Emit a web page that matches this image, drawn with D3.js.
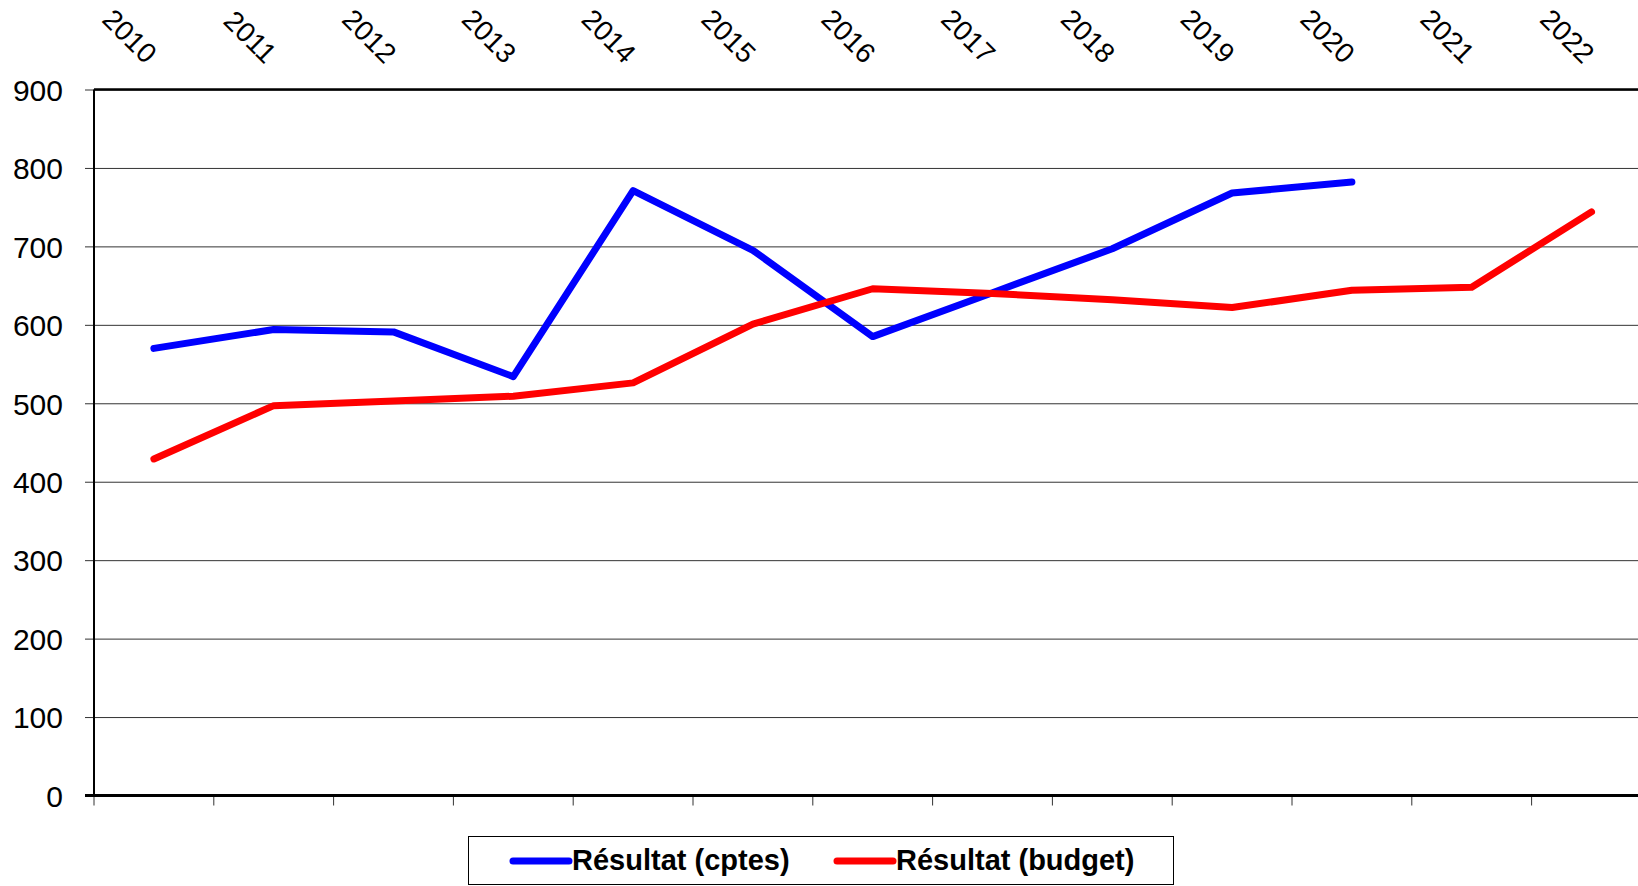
<!DOCTYPE html>
<html>
<head>
<meta charset="utf-8">
<script src="https://cdn.jsdelivr.net/npm/d3@7"></script>
<style>
  body { margin: 0; overflow: hidden; background: #fff; }
  text { font-family: "Liberation Sans", Arial, sans-serif; }
</style>
</head>
<body>
<div id="chart"></div>
<script>
// Data
var years = ["2010", "2011", "2012", "2013", "2014", "2015", "2016", "2017", "2018", "2019", "2020", "2021", "2022"];
var cptes = [570, 594, 591, 534, 771, 695, 585, 641, 697, 768, 782, null, null];
var budget = [429, 497, 503, 509, 526, 601, 646, 640, 632, 622, 644, 648, 744];
var yTicks = [0, 100, 200, 300, 400, 500, 600, 700, 800, 900];
var seriesNames = ["Résultat (cptes)", "Résultat (budget)"];
var seriesColors = ["#0000ff", "#ff0000"];

var svgWidth = 1638;
var svgHeight = 886;
var plotLeft = 94, plotTop = 89.5, plotBottom = 795.5;
var bandW = 119.8;
var plotRight = plotLeft + bandW * years.length;

var svg = d3.select("#chart")
    .append("svg")
    .attr("width", svgWidth)
    .attr("height", svgHeight);

// Scales
var xScale = d3.scaleBand().domain(years).range([plotLeft, plotRight]).padding(0);
var yScale = d3.scaleLinear().domain([0, 900]).range([plotBottom, plotTop]);
var xMid = function(d) { return xScale(d) + xScale.bandwidth() / 2; };

// Gridlines + y axis
var yAxis = d3.axisLeft(yScale)
    .tickValues(yTicks)
    .tickSize(-(plotRight - plotLeft))
    .tickSizeOuter(0)
    .tickFormat(d3.format("d"));

var gy = svg.append("g")
    .attr("transform", `translate(${plotLeft},0)`)
    .call(yAxis);
gy.select(".domain").remove();
gy.selectAll(".tick line")
    .attr("x1", -9)
    .attr("stroke", "#333")
    .attr("stroke-width", 1);
gy.selectAll(".tick text")
    .attr("x", -31)
    .attr("dy", "0.36em")
    .attr("font-size", "30px")
    .attr("font-family", "Liberation Sans, Arial, sans-serif")
    .attr("fill", "#000");

// Top border, left axis
svg.append("line")
    .attr("x1", plotLeft).attr("x2", plotRight)
    .attr("y1", yScale(900)).attr("y2", yScale(900))
    .attr("stroke", "#000").attr("stroke-width", 2.3);
svg.append("line")
    .attr("x1", plotLeft).attr("x2", plotLeft)
    .attr("y1", yScale(900)).attr("y2", yScale(0))
    .attr("stroke", "#000").attr("stroke-width", 2);

// Bottom axis with ticks at category boundaries
var gx = svg.append("g")
    .attr("transform", `translate(0,${plotBottom})`);
gx.selectAll(".tickmark")
    .data(years)
    .enter()
    .append("line")
    .attr("x1", d => xScale(d))
    .attr("x2", d => xScale(d))
    .attr("y1", 0)
    .attr("y2", 10)
    .attr("stroke", "#333")
    .attr("stroke-width", 1);
svg.append("line")
    .attr("x1", plotLeft - 9).attr("x2", plotRight)
    .attr("y1", plotBottom).attr("y2", plotBottom)
    .attr("stroke", "#000").attr("stroke-width", 3);

// Year labels on top, rotated
svg.append("g")
    .selectAll("text")
    .data(years)
    .enter()
    .append("text")
    .attr("transform", d => `translate(${xMid(d) - 9},65) rotate(45)`)
    .attr("text-anchor", "end")
    .attr("font-size", "28px")
    .attr("fill", "#000")
    .text(d => d);

// Lines
var series = [cptes, budget];
var line = d3.line()
    .defined(d => d.v != null)
    .x(d => xMid(d.year))
    .y(d => yScale(d.v));

series.forEach(function(vals, i) {
    var pts = years.map(function(y, j) { return { year: y, v: vals[j] }; });
    svg.append("path")
        .datum(pts)
        .attr("d", line)
        .attr("fill", "none")
        .attr("stroke", seriesColors[i])
        .attr("stroke-width", 7)
        .attr("stroke-linecap", "round")
        .attr("stroke-linejoin", "round");
});

// Legend
var legend = svg.append("g");
legend.append("rect")
    .attr("x", 468.5).attr("y", 836.5)
    .attr("width", 705).attr("height", 48)
    .attr("fill", "#fff")
    .attr("stroke", "#000")
    .attr("stroke-width", 1);

var legendX = [513, 837];
seriesNames.forEach(function(name, i) {
    legend.append("line")
        .attr("x1", legendX[i]).attr("x2", legendX[i] + 56)
        .attr("y1", 861).attr("y2", 861)
        .attr("stroke", seriesColors[i])
        .attr("stroke-width", 7)
        .attr("stroke-linecap", "round");
    legend.append("text")
        .attr("x", legendX[i] + 59)
        .attr("y", 870)
        .attr("font-size", "29px")
        .attr("font-weight", "bold")
        .attr("fill", "#000")
        .text(name);
});
</script>
</body>
</html>
